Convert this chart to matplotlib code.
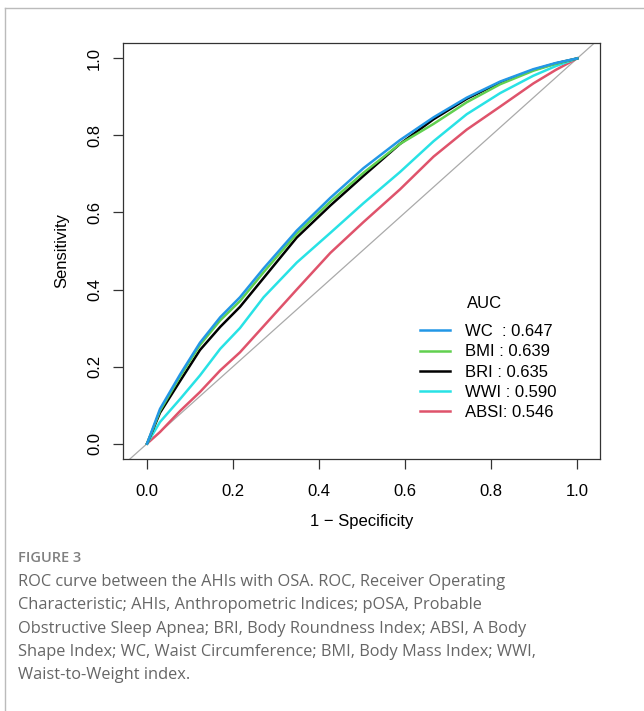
import matplotlib
matplotlib.use("Agg")
import matplotlib.pyplot as plt
from matplotlib.lines import Line2D

# x = 1 - specificity, y = sensitivity
fpr = [0.0, 0.03, 0.077, 0.123, 0.17, 0.216, 0.271, 0.348, 0.426, 0.503,
       0.588, 0.666, 0.743, 0.821, 0.898, 0.95, 1.0]

wc = [0.0, 0.09, 0.18, 0.262, 0.328, 0.38, 0.455, 0.553, 0.638, 0.715,
      0.788, 0.847, 0.898, 0.94, 0.972, 0.988, 1.0]
bmi = [0.0, 0.085, 0.175, 0.256, 0.32, 0.37, 0.445, 0.545, 0.628, 0.703,
       0.778, 0.83, 0.886, 0.933, 0.968, 0.986, 1.0]
bri = [0.0, 0.08, 0.163, 0.243, 0.303, 0.355, 0.43, 0.535, 0.618, 0.695,
       0.778, 0.842, 0.895, 0.938, 0.97, 0.987, 1.0]
wwi = [0.0, 0.056, 0.116, 0.177, 0.246, 0.3, 0.38, 0.47, 0.547, 0.624,
       0.705, 0.785, 0.855, 0.91, 0.955, 0.98, 1.0]
absi = [0.0, 0.03, 0.085, 0.134, 0.19, 0.237, 0.305, 0.4, 0.495, 0.575,
        0.66, 0.745, 0.815, 0.875, 0.935, 0.97, 1.0]

names = ["WC  : 0.647", "BMI : 0.639", "BRI : 0.635", "WWI : 0.590", "ABSI: 0.546"]
colors = ["#2297E6", "#61D04F", "#000000", "#28E2E5", "#DF536B"]
ticks = [0.0, 0.2, 0.4, 0.6, 0.8, 1.0]

caption = ("ROC curve between the AHIs with OSA. ROC, Receiver Operating\n"
           "Characteristic; AHIs, Anthropometric Indices; pOSA, Probable\n"
           "Obstructive Sleep Apnea; BRI, Body Roundness Index; ABSI, A Body\n"
           "Shape Index; WC, Waist Circumference; BMI, Body Mass Index; WWI,\n"
           "Waist-to-Weight index.")

plt.rcParams["font.family"] = ["Liberation Sans", "DejaVu Sans"]

W, H = 644, 711
fig = plt.figure(figsize=(W / 100, H / 100), dpi=100)
ax = fig.add_axes([123 / W, 1 - 459 / H, (600 - 123) / W, (459 - 43) / H])

ax.plot([-1, 2], [-1, 2], color="#aaaaaa", lw=0.9, zorder=1)
for ys, c in zip([wc, bmi, bri, wwi, absi][::-1], colors[::-1]):
    ax.plot(fpr, ys, color=c, lw=1.8, zorder=2)

ax.set_xlim(-0.056, 1.053)
ax.set_ylim(-0.04, 1.04)
ax.set_xticks(ticks)
ax.set_yticks(ticks)
ax.set_xticklabels([f"{t:.1f}" for t in ticks], fontsize=12)
ax.set_yticklabels([f"{t:.1f}" for t in ticks], fontsize=12,
                   rotation=90, va="center")
ax.tick_params(direction="out", length=7, width=0.9, color="#333333")
ax.tick_params(axis="x", pad=11)
ax.tick_params(axis="y", pad=8)
for s in ax.spines.values():
    s.set_color("#333333")
    s.set_linewidth(0.9)
ax.set_xlabel("1 \u2212 Specificity", fontsize=12, labelpad=11)
ax.set_ylabel("Sensitivity", fontsize=12, labelpad=13)

# legend without box, title placed by hand like R's legend(title=...)
handles = [Line2D([], [], color=c, lw=1.8) for c in colors]
leg = ax.legend(handles, names, loc="upper left",
                bbox_to_anchor=(0.623, 0.324), frameon=False, fontsize=12,
                handlelength=1.8, labelspacing=0.31, handletextpad=0.9,
                borderpad=0, borderaxespad=0)
ax.text((485 - 123) / 477, (459 - 304) / 416, "AUC", transform=ax.transAxes,
        fontsize=12, ha="center", va="center")

# outer frame of the figure panel
fig.add_artist(Line2D([5 / W, 1], [1 - 8 / H, 1 - 8 / H], color="#bbbbbb", lw=1))
fig.add_artist(Line2D([5 / W, 5 / W], [0, 1 - 8 / H], color="#bbbbbb", lw=1))

fig.text(18 / W, 1 - 558 / H, "FIGURE 3", fontsize=10.5, color="#808080",
         family=["Open Sans", "DejaVu Sans"], weight="semibold", va="center")
fig.text(18 / W, 1 - 574 / H, caption, fontsize=11.8, color="#666666",
         family=["Open Sans", "DejaVu Sans"], va="top", linespacing=1.61)

fig.savefig("out.png", dpi=100)
